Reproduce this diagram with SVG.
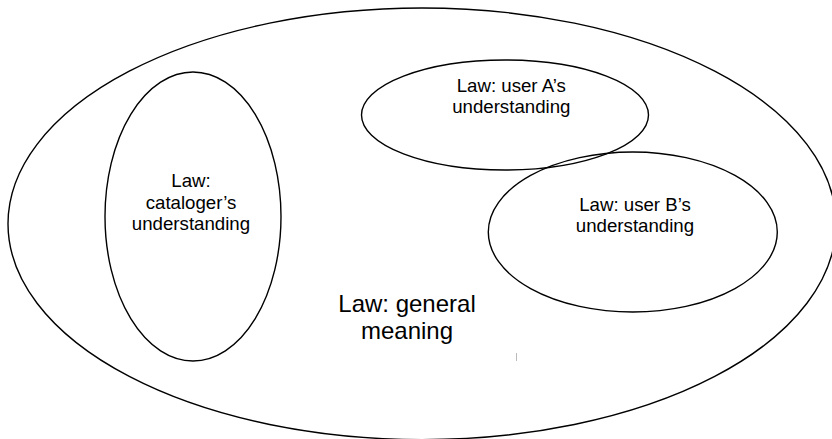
<svg xmlns="http://www.w3.org/2000/svg" width="832" height="439" viewBox="0 0 832 439">
  <style>
    .shape { fill: none; stroke: #000; stroke-width: 1.4; }
    .lbl { font-family: "Liberation Sans", Arial, sans-serif; font-size: 18.67px; fill: #000; text-anchor: middle; }
    .big { font-size: 24px; }
  </style>
  <rect width="832" height="439" fill="#fff"/>
  <g id="general">
    <ellipse class="shape" cx="422" cy="223.8" rx="414" ry="215.8"/>
    <text class="lbl big" x="407" y="311.7">Law: general</text>
    <text class="lbl big" x="407" y="339">meaning</text>
  </g>
  <g id="cataloger">
    <ellipse class="shape" cx="193" cy="216.5" rx="88" ry="144.5"/>
    <text class="lbl" x="191" y="187">Law:</text>
    <text class="lbl" x="191" y="208.5">cataloger’s</text>
    <text class="lbl" x="191" y="230">understanding</text>
  </g>
  <g id="userA">
    <ellipse class="shape" cx="505" cy="115" rx="143.5" ry="55"/>
    <text class="lbl" x="511.3" y="91.7">Law: user A’s</text>
    <text class="lbl" x="511.3" y="113">understanding</text>
  </g>
  <g id="userB">
    <ellipse class="shape" cx="632.8" cy="232" rx="144.5" ry="80"/>
    <text class="lbl" x="635" y="210.7">Law: user B’s</text>
    <text class="lbl" x="635" y="232">understanding</text>
  </g>
  <g id="connectors"/>
  <line x1="516.5" y1="353" x2="516.5" y2="361" stroke="#bbb" stroke-width="1"/>
</svg>
